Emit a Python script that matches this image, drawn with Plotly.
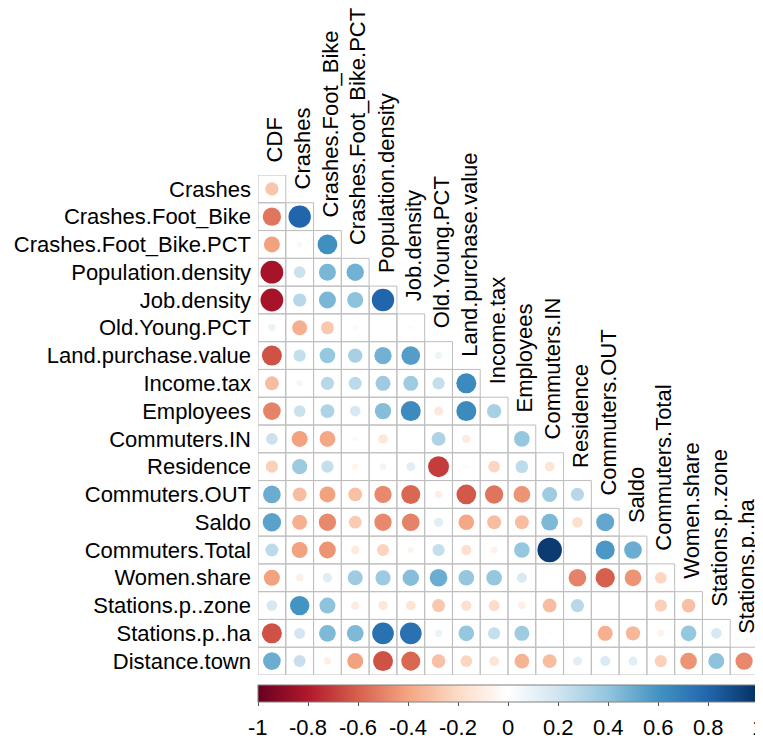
import numpy as np
import plotly.graph_objects as go

variables = ["CDF", "Crashes", "Crashes.Foot_Bike", "Crashes.Foot_Bike.PCT",
             "Population.density", "Job.density", "Old.Young.PCT",
             "Land.purchase.value", "Income.tax", "Employees", "Commuters.IN",
             "Residence", "Commuters.OUT", "Saldo", "Commuters.Total",
             "Women.share", "Stations.p..zone", "Stations.p..ha", "Distance.town"]

row_labels = variables[1:]
col_labels = variables[:-1]

# lower triangle of the correlation matrix (row i vs columns 0..i)
corr_crashes = [-0.28]
corr_crashes_foot_bike = [-0.54, 0.80]
corr_crashes_foot_bike_pct = [-0.41, 0.05, 0.62]
corr_population_density = [-0.83, 0.22, 0.46, 0.48]
corr_job_density = [-0.83, 0.28, 0.46, 0.41, 0.80]
corr_old_young_pct = [0.09, -0.36, -0.27, 0.04, -0.01, -0.03]
corr_land_purchase_value = [-0.64, 0.24, 0.39, 0.33, 0.48, 0.56, 0.08]
corr_income_tax = [-0.31, 0.06, 0.28, 0.27, 0.36, 0.36, 0.24, 0.64]
corr_employees = [-0.50, 0.22, 0.31, 0.18, 0.43, 0.64, -0.13, 0.64, 0.33]
corr_commuters_in = [0.22, -0.41, -0.39, -0.04, -0.14, 0.00, 0.31, -0.11, 0.00, 0.39]
corr_residence = [-0.24, 0.37, 0.24, -0.06, 0.07, 0.13, -0.70, -0.03, -0.22, 0.26, -0.15]
corr_commuters_out = [0.50, -0.31, -0.41, -0.30, -0.48, -0.58, -0.09, -0.62, -0.54, -0.45, 0.36, 0.28]
corr_saldo = [0.54, -0.36, -0.48, -0.26, -0.48, -0.50, 0.13, -0.39, -0.31, -0.31, 0.45, -0.18, 0.52]
corr_commuters_total = [0.27, -0.41, -0.45, -0.11, -0.23, -0.06, 0.24, -0.17, -0.07, 0.39, 0.96, 0.01, 0.58, 0.50]
corr_women_share = [-0.41, -0.09, 0.14, 0.36, 0.37, 0.43, 0.50, 0.39, 0.39, 0.16, 0.00, -0.50, -0.60, -0.45, -0.22]
corr_stations_p_zone = [0.18, 0.60, 0.41, -0.11, -0.14, -0.15, -0.27, -0.17, -0.19, -0.09, -0.31, 0.28, 0.00, 0.00, -0.24, -0.30]
corr_stations_p_ha = [-0.64, 0.19, 0.45, 0.45, 0.75, 0.75, 0.09, 0.39, 0.24, 0.36, 0.02, 0.01, -0.36, -0.33, -0.07, 0.39, 0.18]
corr_distance_town = [0.50, 0.23, -0.09, -0.41, -0.64, -0.58, -0.30, -0.22, -0.15, -0.35, -0.31, 0.13, 0.16, 0.13, -0.24, -0.45, 0.41, -0.48]

corr_rows = [corr_crashes, corr_crashes_foot_bike, corr_crashes_foot_bike_pct,
             corr_population_density, corr_job_density, corr_old_young_pct,
             corr_land_purchase_value, corr_income_tax, corr_employees,
             corr_commuters_in, corr_residence, corr_commuters_out, corr_saldo,
             corr_commuters_total, corr_women_share, corr_stations_p_zone,
             corr_stations_p_ha, corr_distance_town]

colorbar_ticks = [-1, -0.8, -0.6, -0.4, -0.2, 0, 0.2, 0.4, 0.6, 0.8, 1]

rdbu = ["#67001F", "#B2182B", "#D6604D", "#F4A582", "#FDDBC7", "#FFFFFF",
        "#D1E5F0", "#92C5DE", "#4393C3", "#2166AC", "#053061"]
colorscale = [[i / 10, c] for i, c in enumerate(rdbu)]

FONT = "Liberation Sans, Arial, sans-serif"
# the page body adds an 8px offset, so the figure is 8px smaller than the window
W, H = 755, 732
ML, MR, MT, MB = 250, 5, 167, 65
n = len(row_labels)
cell_px = (W - ML - MR) / n
plot_h = H - MT - MB

xs, ys, vals = [], [], []
for r, row in enumerate(corr_rows):
    for c, v in enumerate(row):
        xs.append(c)
        ys.append(r)
        vals.append(v)
vals = np.array(vals)
sizes = 0.9 * cell_px * np.sqrt(np.abs(vals))

# grid lines around each lower-triangle cell
gx, gy = [], []
for r, row in enumerate(corr_rows):
    for c in range(len(row)):
        gx += [c - 0.5, c + 0.5, c + 0.5, c - 0.5, c - 0.5, None]
        gy += [r - 0.5, r - 0.5, r + 0.5, r + 0.5, r - 0.5, None]

fig = go.Figure()
fig.add_trace(go.Scatter(x=gx, y=gy, mode="lines",
                         line=dict(color="#BEBEBE", width=1),
                         hoverinfo="skip", showlegend=False))
fig.add_trace(go.Scatter(
    x=xs, y=ys, mode="markers", showlegend=False,
    marker=dict(size=sizes, color=vals, colorscale=colorscale, cmin=-1, cmax=1,
                opacity=1, line=dict(width=0),
                colorbar=dict(orientation="h", x=0.5, xanchor="center",
                              y=-0.02, yanchor="top", len=1, lenmode="fraction",
                              thickness=17, xpad=0, ypad=0,
                              outlinecolor="#808080", outlinewidth=1,
                              tickvals=colorbar_ticks, showticklabels=False,
                              ticks="outside", ticklen=4, tickcolor="#555555"))))

# colour-bar tick labels, placed on the same -1..1 scale spread over the plot width
for t in colorbar_ticks:
    fig.add_annotation(x=(t + 1) / 2 * n - 0.5, y=-52 / plot_h, xref="x", yref="paper",
                       text=f"{t:g}", showarrow=False, xanchor="center",
                       yanchor="middle",
                       font=dict(family=FONT, size=22, color="black"))

for c, lab in enumerate(col_labels):
    fig.add_annotation(x=c, y=c - 0.5, xref="x", yref="y", text=lab,
                       textangle=-90, showarrow=False, xanchor="center",
                       yanchor="bottom", yshift=11, xshift=3,
                       font=dict(family=FONT, size=22, color="black"))

fig.update_layout(
    width=W, height=H,
    margin=dict(l=ML, r=MR, t=MT, b=MB, pad=0),
    plot_bgcolor="white", paper_bgcolor="white",
    xaxis=dict(range=[-0.5, n - 0.5], showgrid=False, zeroline=False,
               showticklabels=False, showline=False, fixedrange=True),
    yaxis=dict(range=[n - 0.5, -0.5], showgrid=False, zeroline=False,
               tickmode="array", tickvals=list(range(n)), ticktext=row_labels,
               ticks="", ticklabelstandoff=6, showline=False,
               tickfont=dict(family=FONT, size=22, color="black")),
)

fig.write_html("out.html")
